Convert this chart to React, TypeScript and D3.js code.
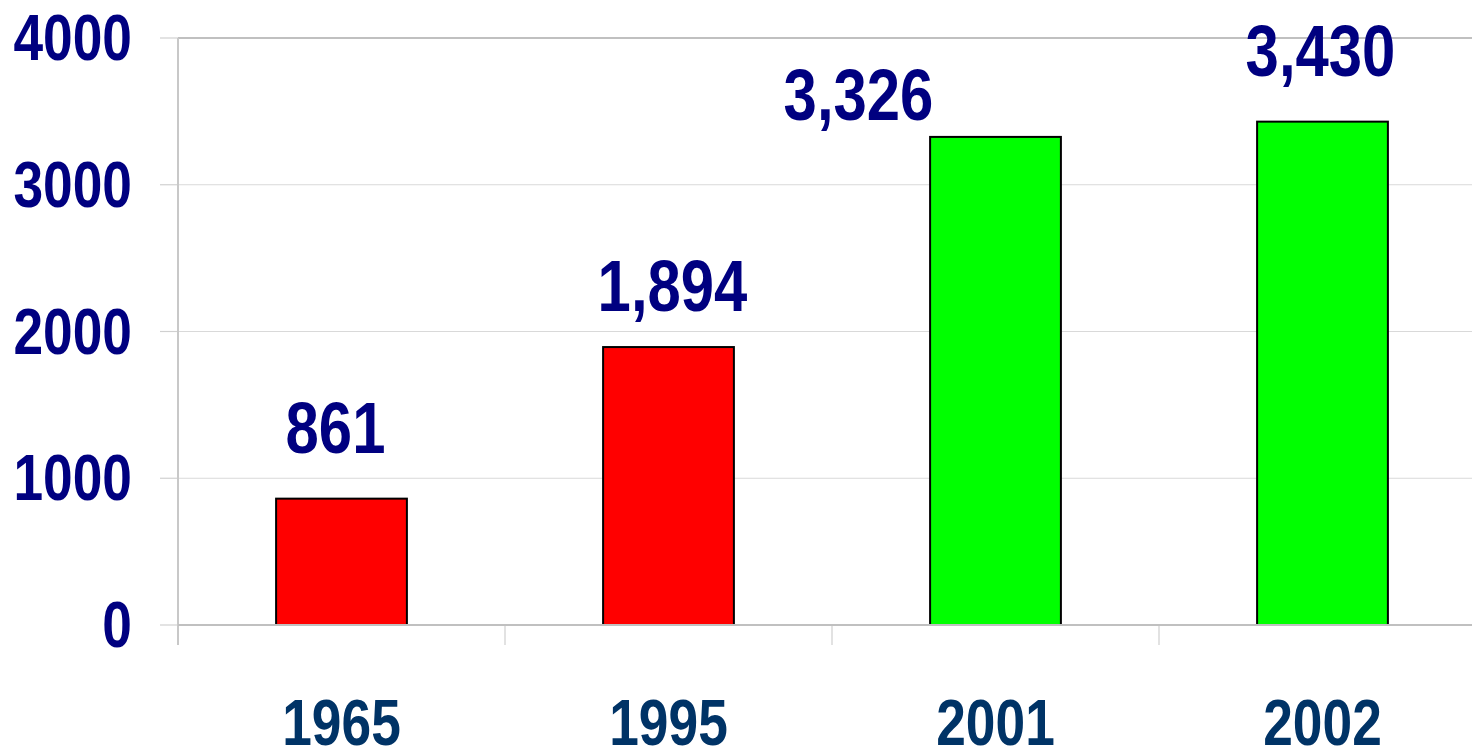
import * as d3 from "d3";
import { useEffect } from "react";

// chart values
const years = ["1965", "1995", "2001", "2002"];
const counts = [861, 1894, 3326, 3430];
const barColors = ["#ff0000", "#ff0000", "#00ff00", "#00ff00"];
const yTicks = [0, 1000, 2000, 3000, 4000];

// hand-placed label nudges from the original slide (px)
const labelNudge = [
  { dx: -6, dy: 0 },
  { dx: 4, dy: 10 },
  { dx: -137, dy: 29 },
  { dx: -2, dy: 0 },
];

const W = 1472;
const H = 750;
const margin = { top: 38, left: 178, bottom: 125 };
const plotRight = 1486;
const font = "'Liberation Sans', Arial, sans-serif";
const narrow = 0.82; // no narrow font installed, so squeeze Liberation Sans

const NarrowText = ({ x, y, anchor, size, fill, children }: any) => (
  <g transform={`translate(${x},${y}) scale(${narrow},1)`}>
    <text textAnchor={anchor} fontFamily={font} fontWeight="bold" fontSize={size} fill={fill}>
      {children}
    </text>
  </g>
);

const App = () => {
  useEffect(() => {
    document.body.style.margin = "0";
  }, []);

  const x = d3.scaleBand().domain(years).range([margin.left, plotRight]).paddingInner(0).paddingOuter(0);
  const y = d3.scaleLinear().domain([0, 4000]).range([H - margin.bottom, margin.top]);
  const bw = x.bandwidth() * 0.4;
  const y0 = y(0);

  return (
    <svg width={W} height={H} style={{ display: "block", background: "#fff" }}>
      {/* gridlines */}
      {yTicks.slice(1, -1).map((t) => (
        <line key={t} x1={margin.left} x2={plotRight} y1={y(t)} y2={y(t)} stroke="#d9d9d9" strokeWidth={1.2} />
      ))}
      {/* y tick marks */}
      {yTicks.map((t) => (
        <line key={"tk" + t} x1={160} x2={margin.left} y1={y(t)} y2={y(t)} stroke="#d0d0d0" strokeWidth={1.2} />
      ))}
      {/* x tick marks at band boundaries */}
      {years.map((yr) => (
        <line key={"xt" + yr} x1={x(yr)!} x2={x(yr)!} y1={y0} y2={y0 + 20} stroke="#d9d9d9" strokeWidth={1.5} />
      ))}
      {/* plot frame */}
      <line x1={margin.left} x2={plotRight} y1={y(4000)} y2={y(4000)} stroke="#c0c0c0" strokeWidth={2.2} />
      <line x1={margin.left} x2={margin.left} y1={y(4000)} y2={y0 + 20} stroke="#c8c8c8" strokeWidth={2} />
      {/* bars */}
      {years.map((yr, i) => (
        <rect
          key={"b" + yr}
          x={x(yr)! + (x.bandwidth() - bw) / 2}
          y={y(counts[i])}
          width={bw}
          height={y0 - y(counts[i])}
          fill={barColors[i]}
          stroke="#000"
          strokeWidth={2}
        />
      ))}
      <line x1={margin.left} x2={plotRight} y1={y0} y2={y0} stroke="#c0c0c0" strokeWidth={2.2} />
      {/* y labels */}
      {yTicks.map((t) => (
        <NarrowText key={"yl" + t} x={132} y={y(t) + 22} anchor="end" size={65} fill="#000080">
          {t}
        </NarrowText>
      ))}
      {/* x labels */}
      {years.map((yr) => (
        <NarrowText key={"xl" + yr} x={x(yr)! + x.bandwidth() / 2} y={745} anchor="middle" size={65} fill="#003366">
          {yr}
        </NarrowText>
      ))}
      {/* value labels */}
      {years.map((yr, i) => (
        <NarrowText
          key={"vl" + yr}
          x={x(yr)! + x.bandwidth() / 2 + labelNudge[i].dx}
          y={y(counts[i]) - 46 + labelNudge[i].dy}
          anchor="middle"
          size={73}
          fill="#000080"
        >
          {d3.format(",")(counts[i])}
        </NarrowText>
      ))}
    </svg>
  );
};

export default App;
